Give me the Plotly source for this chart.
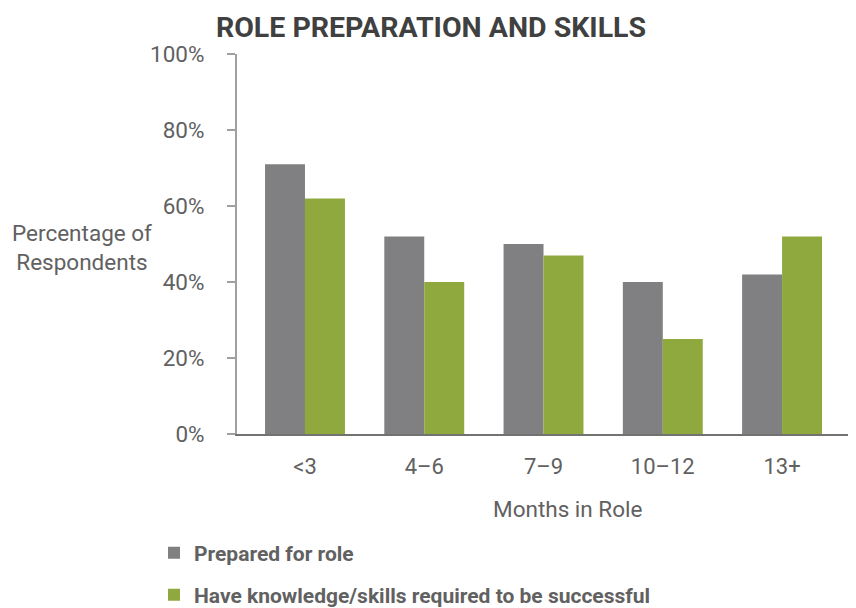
import plotly.graph_objects as go

categories = ["<3", "4–6", "7–9", "10–12", "13+"]
prepared = [71, 52, 50, 40, 42]
knowledge = [62, 40, 47, 25, 52]
series_names = ["Prepared for role", "Have knowledge/skills required to be successful"]
y_ticks = [0, 20, 40, 60, 80, 100]
y_tick_labels = ["0%", "20%", "40%", "60%", "80%", "100%"]

GRAY = "#808082"
GREEN = "#8FA93E"
TEXT = "#616161"
FONT = "Roboto"

# page has an 8px body margin; work in page pixels and convert
OFF = 8
W, H = 856 - OFF, 608 - OFF
def fx(px):  # page x -> figure x
    return px - OFF
def fy(py):
    return py - OFF

L = fx(237)
T = fy(54)
R = 0
B = H - fy(434)
pw, ph = W - L - R, H - T - B

fig = go.Figure()
fig.add_trace(go.Bar(x=categories, y=prepared, name=series_names[0],
                     marker=dict(color=GRAY, line=dict(width=0)), legend="legend"))
fig.add_trace(go.Bar(x=categories, y=knowledge, name=series_names[1],
                     marker=dict(color=GREEN, line=dict(width=0)), legend="legend2"))

common = dict(xref="container", yref="container", xanchor="left", yanchor="middle",
              bgcolor="rgba(0,0,0,0)", itemclick=False,
              font=dict(family=FONT, size=21, color=TEXT, weight="bold"))

fig.update_layout(
    width=W, height=H,
    margin=dict(l=L, r=R, t=T, b=B, autoexpand=False),
    paper_bgcolor="white", plot_bgcolor="white",
    showlegend=True,
    barmode="group", bargap=0.33, bargroupgap=0,
    font=dict(family=FONT, color=TEXT, size=22),
    title=dict(text="<b>ROLE PREPARATION AND SKILLS</b>", x=fx(431) / W, xanchor="center",
               xref="container", yref="container",
               y=1 - fy(27) / H, yanchor="middle",
               font=dict(family=FONT, size=28.5, color="#404040")),
    xaxis=dict(type="category", range=[-0.57, 4.62], showline=True, linecolor="#727272",
               linewidth=2, ticks="", showgrid=False, zeroline=False, automargin=False,
               tickfont=dict(size=22, color=TEXT), ticklabelstandoff=12),
    yaxis=dict(range=[0, 100], tickvals=y_ticks, ticktext=y_tick_labels, showline=True,
               linecolor="#a0a0a0", linewidth=2, ticks="outside", ticklen=8, tickcolor="#a0a0a0",
               tickwidth=1.5, showgrid=False, zeroline=False, ticklabelstandoff=18,
               automargin=False, tickfont=dict(size=22.5, color=TEXT)),
    legend=dict(x=fx(154) / W, y=1 - fy(553) / H, **common),
    legend2=dict(x=fx(154) / W, y=1 - fy(595) / H, **common),
)

def paper_x(px):
    return (fx(px) - L) / pw

def paper_y(py):
    return (H - B - fy(py)) / ph

fig.add_annotation(text="Percentage of<br>Respondents", xref="paper", yref="paper",
                   x=paper_x(82), y=paper_y(247), showarrow=False,
                   xanchor="center", yanchor="middle", align="center",
                   font=dict(family=FONT, size=22.5, color=TEXT))
fig.add_annotation(text="Months in Role", xref="paper", yref="paper",
                   x=paper_x(567), y=paper_y(509), showarrow=False,
                   xanchor="center", yanchor="middle",
                   font=dict(family=FONT, size=22.5, color=TEXT))

fig.write_html("out.html")
